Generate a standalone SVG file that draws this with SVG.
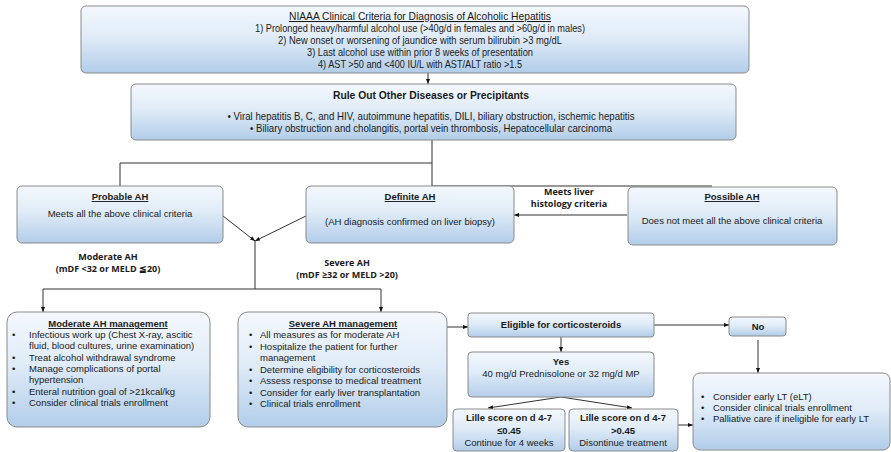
<svg xmlns="http://www.w3.org/2000/svg" width="891" height="452" viewBox="0 0 891 452">
<defs>
<linearGradient id="g" x1="0" y1="0" x2="0" y2="1">
<stop offset="0" stop-color="#f4f8fd"/>
<stop offset="0.45" stop-color="#e0ecf8"/>
<stop offset="1" stop-color="#b2cde9"/>
</linearGradient>
<marker id="ah" viewBox="0 0 10 10" refX="10" refY="5" markerWidth="5" markerHeight="5" orient="auto" markerUnits="userSpaceOnUse">
<path d="M0,1 L10,5 L0,9 z" fill="#111"/>
</marker>
</defs>
<style>
.box{fill:url(#g);stroke:#8a8a8a;stroke-width:1}
.t{font-family:"Liberation Sans",Arial,sans-serif;font-size:9.5px;fill:#1a1a1a}
.big{font-size:10.5px}
.c{text-anchor:middle}
.b{font-weight:bold}
.u{text-decoration:underline}
.lbl{font-family:"Open Sans","Liberation Sans",sans-serif;font-size:9px;font-weight:bold;fill:#1a1a1a;text-anchor:middle}
.ln{fill:none;stroke:#333;stroke-width:1}
.ar{fill:none;stroke:#333;stroke-width:1;marker-end:url(#ah)}
</style>
<rect width="891" height="452" fill="#fff"/>

<g id="connectors">
<line class="ar" x1="428" y1="73" x2="428" y2="84"/>
<polyline class="ln" points="432,140 432,186 712,186"/>
<polyline class="ln" points="432,163 120,163 120,186"/>
<line class="ar" x1="223" y1="216" x2="255" y2="241"/>
<line class="ar" x1="306" y1="216" x2="255" y2="241"/>
<line class="ln" x1="255" y1="241" x2="255" y2="289"/>
<line class="ln" x1="43" y1="289" x2="381" y2="289"/>
<line class="ar" x1="43" y1="289" x2="43" y2="312"/>
<line class="ar" x1="381" y1="289" x2="381" y2="312"/>
<line class="ar" x1="627" y1="215" x2="514" y2="215"/>
<line class="ar" x1="447" y1="327" x2="468" y2="327"/>
<line class="ar" x1="654" y1="325" x2="729" y2="325"/>
<line class="ar" x1="561" y1="337" x2="561" y2="352"/>
<line class="ar" x1="561" y1="397" x2="488" y2="408"/>
<line class="ar" x1="561" y1="397" x2="632" y2="408"/>
<line class="ar" x1="678" y1="425" x2="693" y2="425"/>
<line class="ar" x1="758" y1="340" x2="758" y2="373"/>
<text class="lbl" x="569" y="195">Meets liver</text>
<text class="lbl" x="569" y="207">histology criteria</text>
<text class="lbl" x="108" y="260">Moderate AH</text>
<text class="lbl" x="108" y="272">(mDF &lt;32 or MELD ≦20)</text>
<text class="lbl" x="347" y="266">Severe AH</text>
<text class="lbl" x="347" y="278">(mDF ≥32 or MELD &gt;20)</text>
</g>

<g id="niaaa">
<rect class="box" x="81" y="6" width="668" height="67" rx="5"/>
<text class="t big c u" x="420" y="20" textLength="262" lengthAdjust="spacingAndGlyphs">NIAAA Clinical Criteria for Diagnosis of Alcoholic Hepatitis</text>
<text class="t big c" x="420" y="32" textLength="330" lengthAdjust="spacingAndGlyphs">1) Prolonged heavy/harmful alcohol use (&gt;40g/d in females and &gt;60g/d in males)</text>
<text class="t big c" x="420" y="44" textLength="284" lengthAdjust="spacingAndGlyphs">2) New onset or worsening of jaundice with serum bilirubin &gt;3 mg/dL</text>
<text class="t big c" x="420" y="56" textLength="226" lengthAdjust="spacingAndGlyphs">3) Last alcohol use within prior 8 weeks of presentation</text>
<text class="t big c" x="420" y="68" textLength="204" lengthAdjust="spacingAndGlyphs">4) AST &gt;50 and &lt;400 IU/L with AST/ALT ratio &gt;1.5</text>
</g>

<g id="ruleout">
<rect class="box" x="131" y="84" width="605" height="56" rx="5"/>
<text class="t big c b" x="431" y="99" textLength="196" lengthAdjust="spacingAndGlyphs">Rule Out Other Diseases or Precipitants</text>
<text class="t big c" x="431" y="120" textLength="407" lengthAdjust="spacingAndGlyphs">•   Viral hepatitis B, C, and HIV, autoimmune hepatitis, DILI, biliary obstruction, ischemic hepatitis</text>
<text class="t big c" x="431" y="132" textLength="362" lengthAdjust="spacingAndGlyphs">•   Biliary obstruction and cholangitis, portal vein thrombosis, Hepatocellular carcinoma</text>
</g>

<g id="probable">
<rect class="box" x="17" y="186" width="206" height="57" rx="5"/>
<text class="t c b u" x="120" y="200">Probable AH</text>
<text class="t c" x="120" y="217">Meets all the above clinical criteria</text>
</g>

<g id="definite">
<rect class="box" x="306" y="186" width="208" height="57" rx="5"/>
<text class="t c b u" x="410" y="200">Definite AH</text>
<text class="t c" x="410" y="225">(AH diagnosis confirmed on liver biopsy)</text>
</g>

<g id="possible">
<rect class="box" x="628" y="187" width="209" height="58" rx="5"/>
<text class="t c b u" x="732" y="200">Possible AH</text>
<text class="t c" x="732" y="224">Does not meet all the above clinical criteria</text>
</g>

<g id="moderate">
<rect class="box" x="7" y="312" width="203" height="115" rx="10"/>
<text class="t c b u" x="108" y="327">Moderate AH management</text>
<text class="t" x="12" y="338">•</text><text class="t" x="29" y="338">Infectious work up (Chest X-ray, ascitic</text>
<text class="t" x="29" y="349">fluid, blood cultures, urine examination)</text>
<text class="t" x="12" y="361">•</text><text class="t" x="29" y="361">Treat alcohol withdrawal syndrome</text>
<text class="t" x="12" y="372">•</text><text class="t" x="29" y="372">Manage complications of portal</text>
<text class="t" x="29" y="383">hypertension</text>
<text class="t" x="12" y="395">•</text><text class="t" x="29" y="395">Enteral nutrition goal of &gt;21kcal/kg</text>
<text class="t" x="12" y="406">•</text><text class="t" x="29" y="406">Consider clinical trials enrollment</text>
</g>

<g id="severe">
<rect class="box" x="238" y="312" width="209" height="115" rx="10"/>
<text class="t c b u" x="343" y="327">Severe AH management</text>
<text class="t" x="249" y="338">•</text><text class="t" x="260" y="338">All measures as for moderate AH</text>
<text class="t" x="249" y="350">•</text><text class="t" x="260" y="350">Hospitalize the patient for further</text>
<text class="t" x="260" y="361">management</text>
<text class="t" x="249" y="373">•</text><text class="t" x="260" y="373">Determine eligibility for corticosteroids</text>
<text class="t" x="249" y="384">•</text><text class="t" x="260" y="384">Assess response to medical treatment</text>
<text class="t" x="249" y="396">•</text><text class="t" x="260" y="396">Consider for early liver transplantation</text>
<text class="t" x="249" y="407">•</text><text class="t" x="260" y="407">Clinical trials enrollment</text>
</g>

<g id="eligible">
<rect class="box" x="468" y="313" width="186" height="24" rx="3"/>
<text class="t c b" x="561" y="328">Eligible for corticosteroids</text>
</g>

<g id="no">
<rect class="box" x="729" y="317" width="57" height="19" rx="3"/>
<text class="t c b" x="758" y="330">No</text>
</g>

<g id="yes">
<rect class="box" x="468" y="352" width="186" height="45" rx="4"/>
<text class="t c b" x="561" y="365">Yes</text>
<text class="t c" x="561" y="377">40 mg/d Prednisolone or 32 mg/d MP</text>
</g>

<g id="lille-low">
<rect class="box" x="453" y="409" width="112" height="42" rx="4"/>
<text class="t c b" x="509" y="421">Lille score on d 4-7</text>
<text class="t c b" x="509" y="434">≤0.45</text>
<text class="t c" x="509" y="446">Continue for 4 weeks</text>
</g>

<g id="lille-high">
<rect class="box" x="569" y="409" width="109" height="42" rx="4"/>
<text class="t c b" x="623" y="421">Lille score on d 4-7</text>
<text class="t c b" x="623" y="434">&gt;0.45</text>
<text class="t c" x="623" y="446">Disontinue treatment</text>
</g>

<g id="final">
<rect class="box" x="693" y="373" width="197" height="77" rx="7"/>
<text class="t" x="701" y="400">•</text><text class="t" x="713" y="400">Consider early LT (eLT)</text>
<text class="t" x="701" y="411">•</text><text class="t" x="713" y="411">Consider clinical trials enrollment</text>
<text class="t" x="701" y="422">•</text><text class="t" x="713" y="422">Palliative care if ineligible for early LT</text>
</g>
</svg>
